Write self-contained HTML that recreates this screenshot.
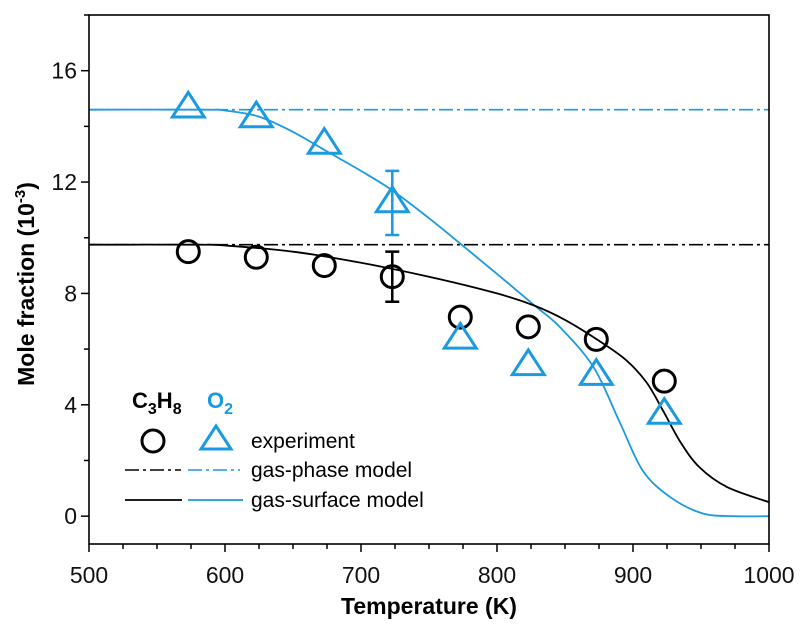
<!DOCTYPE html>
<html><head><meta charset="utf-8"><style>
body{margin:0;background:#fff;}
svg{display:block;font-family:"Liberation Sans",Arial,sans-serif;}
</style></head><body>
<svg id="chart" width="809" height="631"></svg>
<script>
const temps=[573,623,673,723,773,823,873,923];
const c3h8Exp=[9.5,9.3,9.0,8.6,7.15,6.8,6.35,4.85];
const o2Exp=[14.7,14.35,13.4,11.3,6.4,5.45,5.1,3.7];
const c3h8Err=[[723,7.7,9.5]];
const o2Err=[[723,10.1,12.4]];
const c3h8Phase=9.75;
const o2Phase=14.6;
const modelT=[500,580,600,650,700,750,800,828,850,875,895,910,922,935,949,969,1000];
const c3h8Model=[9.75,9.75,9.72,9.5,9.1,8.6,8.0,7.55,7.05,6.3,5.6,4.8,3.8,2.65,1.75,1.05,0.5];
const o2ModelT=[500,585,600,625,650,675,700,723,750,774,800,828,846,871,890,907,927,951,975,1000];
const o2Model=[14.6,14.6,14.57,14.35,13.8,13.1,12.4,11.7,10.7,9.75,8.7,7.55,6.8,5.35,3.4,1.65,0.7,0.1,0,0];
const xTicks=[500,600,700,800,900,1000];
const yTicks=[0,4,8,12,16];

const L=89,R=769,T=15,B=544,xmin=500,xmax=1000,ymin=-1,ymax=18;
const X=v=>L+(v-xmin)/(xmax-xmin)*(R-L);
const Y=v=>B-(v-ymin)/(ymax-ymin)*(B-T);
const svg=document.getElementById('chart');
const NS='http://www.w3.org/2000/svg';
function el(tag,attrs,parent){const e=document.createElementNS(NS,tag);for(const k in attrs)e.setAttribute(k,attrs[k]);(parent||svg).appendChild(e);return e;}
const BL='#1a9ae0';

function smooth(xs,ys){
  const P=xs.map((x,i)=>[X(x),Y(ys[i])]);
  let d='M'+P[0][0].toFixed(1)+' '+P[0][1].toFixed(1);
  for(let i=0;i<P.length-1;i++){
    const p0=P[i-1]||P[i],p1=P[i],p2=P[i+1],p3=P[i+2]||P[i+1];
    const c1=[p1[0]+(p2[0]-p0[0])/6,p1[1]+(p2[1]-p0[1])/6];
    const c2=[p2[0]-(p3[0]-p1[0])/6,p2[1]-(p3[1]-p1[1])/6];
    d+=`C${c1[0].toFixed(1)} ${c1[1].toFixed(1)} ${c2[0].toFixed(1)} ${c2[1].toFixed(1)} ${p2[0].toFixed(1)} ${p2[1].toFixed(1)}`;
  }
  return d;
}
let p;
p=el('line',{x1:L,x2:R,y1:Y(o2Phase),y2:Y(o2Phase),stroke:BL,'stroke-width':1.6,'stroke-dasharray':'14 4 3 4'});

p=el('line',{x1:L,x2:R,y1:Y(c3h8Phase),y2:Y(c3h8Phase),stroke:'#000','stroke-width':1.6,'stroke-dasharray':'14 4 3 4'});

p=el('path',{d:smooth(o2ModelT,o2Model),fill:'none',stroke:BL,'stroke-width':1.8,'stroke-linejoin':'round'});

p=el('path',{d:smooth(modelT,c3h8Model),fill:'none',stroke:'#000','stroke-width':1.8,'stroke-linejoin':'round'});


function errbar(e,col,name){const x=X(e[0]);const g=el('path',{d:`M${x} ${Y(e[1])}V${Y(e[2])}M${x-7} ${Y(e[1])}H${x+7}M${x-7} ${Y(e[2])}H${x+7}`,stroke:col,'stroke-width':2.5,fill:'none'});
}
c3h8Err.forEach(e=>errbar(e,'#000','c3h8-error-bar'));
o2Err.forEach(e=>errbar(e,BL,'o2-error-bar'));
function tri(cx,cy,s){return `M${cx} ${cy-s}L${cx+s*1.1} ${cy+s*0.7}L${cx-s*1.1} ${cy+s*0.7}Z`;}
temps.forEach((t,i)=>{
 const c=el('circle',{cx:X(t),cy:Y(c3h8Exp[i]),r:11,fill:'none',stroke:'#000','stroke-width':3});
 
 const tr=el('path',{d:tri(X(t),Y(o2Exp[i]),14.5),fill:'none',stroke:BL,'stroke-width':3,'stroke-linejoin':'miter'});
 
});

p=el('rect',{x:L,y:T,width:R-L,height:B-T,fill:'none',stroke:'#000','stroke-width':1.6});

for(let v=500;v<=1000;v+=25){const maj=v%100===0;el('line',{x1:X(v),x2:X(v),y1:B,y2:B+(maj?8:5),stroke:'#000','stroke-width':1.5});}
for(let v=0;v<=18;v+=2){const maj=v%4===0;el('line',{x1:L,x2:L-(maj?8:5),y1:Y(v),y2:Y(v),stroke:'#000','stroke-width':1.5});}
xTicks.forEach(v=>{const t=el('text',{x:X(v),y:B+39,'text-anchor':'middle','font-size':23,fill:'#111'});t.textContent=v;
});
yTicks.forEach(v=>{const t=el('text',{x:L-12,y:Y(v)+8,'text-anchor':'end','font-size':23,fill:'#111'});t.textContent=v;
});
</script>
<svg width="809" height="631" style="position:absolute;left:0;top:0">
<text x="429" y="614" text-anchor="middle" font-size="23" font-weight="bold">Temperature (K)</text>
<text transform="translate(34,284) rotate(-90)" text-anchor="middle" font-size="23" font-weight="bold">Mole fraction (10<tspan dy="-9" font-size="15">-3</tspan><tspan dy="9">)</tspan></text>
<g>
<text x="132" y="408" font-size="22" font-weight="bold">C<tspan dy="6" font-size="16">3</tspan><tspan dy="-6">H</tspan><tspan dy="6" font-size="16">8</tspan></text>
<text x="207" y="408" font-size="22" font-weight="bold" fill="#1a9ae0">O<tspan dy="6" font-size="16">2</tspan></text>
<circle cx="153" cy="441" r="11" fill="none" stroke="#000" stroke-width="3"/>
<path d="M216 426L231 449H201Z" fill="none" stroke="#1a9ae0" stroke-width="3"/>
<text x="251" y="448" font-size="21">experiment</text>
<line x1="125" x2="181" y1="470" y2="470" stroke="#000" stroke-width="1.6" stroke-dasharray="14 4 3 4"/>
<line x1="188" x2="240" y1="470" y2="470" stroke="#1a9ae0" stroke-width="1.6" stroke-dasharray="14 4 3 4"/>
<text x="251" y="477" font-size="21">gas-phase model</text>
<line x1="125" x2="182" y1="500" y2="500" stroke="#000" stroke-width="1.8"/>
<line x1="188" x2="243" y1="500" y2="500" stroke="#1a9ae0" stroke-width="1.8"/>
<text x="251" y="507" font-size="21">gas-surface model</text>
</g>
</svg>
</body></html>
